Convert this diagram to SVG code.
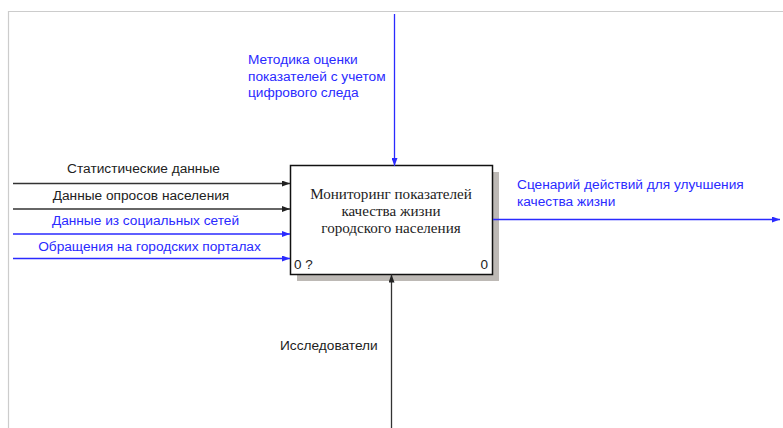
<svg xmlns="http://www.w3.org/2000/svg" width="783" height="428" viewBox="0 0 783 428">
<style>
.lbl{font-family:"Liberation Sans",Arial,sans-serif;font-size:13.7px}
.blk{fill:#222}
.blu{fill:#2a2aff}
.box{font-family:"Liberation Serif","Times New Roman",serif;font-size:15.1px;fill:#222;text-anchor:middle}
.num{font-family:"Liberation Sans",Arial,sans-serif;font-size:13.5px;fill:#222}
.lb{stroke:#2a2aff;stroke-width:1.3;fill:none}
.lk{stroke:#333;stroke-width:1.3;fill:none}
</style>
<defs>
<marker id="ak" markerWidth="8" markerHeight="6" refX="8" refY="3" orient="auto" markerUnits="userSpaceOnUse"><path d="M0,0 L8,3 L0,6 Z" fill="#222"/></marker>
<marker id="ab" markerWidth="8" markerHeight="6" refX="8" refY="3" orient="auto" markerUnits="userSpaceOnUse"><path d="M0,0 L8,3 L0,6 Z" fill="#2a2aff"/></marker>
</defs>
<rect width="783" height="428" fill="#fff"/>
<path d="M8.5,428 V11.5 H783" stroke="#cccccc" stroke-width="1.2" fill="none"/>
<g id="node-A0">
<rect x="297" y="172" width="202" height="109" fill="#bdb9b5"/>
<rect x="290.5" y="165.5" width="202" height="109" fill="#fff" stroke="#111" stroke-width="1.5"/>
<text class="box" x="391" y="199">Мониторинг показателей</text>
<text class="box" x="391" y="216">качества жизни</text>
<text class="box" x="391" y="233">городского населения</text>
<text class="num" x="294" y="269">0 ?</text>
<text class="num" x="488" y="269" text-anchor="end">0</text>
</g>
<g id="connectors">
<path class="lk" d="M13,183.5 H290" marker-end="url(#ak)"/>
<path class="lk" d="M13,209 H290" marker-end="url(#ak)"/>
<path class="lb" d="M13,234 H290" marker-end="url(#ab)"/>
<path class="lb" d="M13,258.5 H290" marker-end="url(#ab)"/>
<path class="lb" d="M394.5,14 V166" marker-end="url(#ab)"/>
<path class="lk" d="M391.5,428 V274.5" marker-end="url(#ak)"/>
<path class="lb" d="M493,219.5 H780" marker-end="url(#ab)"/>
<text class="lbl blk" x="143.5" y="173" text-anchor="middle">Статистические данные</text>
<text class="lbl blk" x="141" y="200" text-anchor="middle">Данные опросов населения</text>
<text class="lbl blu" x="145.5" y="225" text-anchor="middle">Данные из социальных сетей</text>
<text class="lbl blu" x="149.5" y="250.5" text-anchor="middle">Обращения на городских порталах</text>
<text class="lbl blu" x="248" y="64">Методика оценки</text>
<text class="lbl blu" x="248" y="80.5">показателей с учетом</text>
<text class="lbl blu" x="248" y="97">цифрового следа</text>
<text class="lbl blu" x="517" y="189">Сценарий действий для улучшения</text>
<text class="lbl blu" x="517" y="205.5">качества жизни</text>
<text class="lbl blk" x="280" y="350">Исследователи</text>
</g>
</svg>
